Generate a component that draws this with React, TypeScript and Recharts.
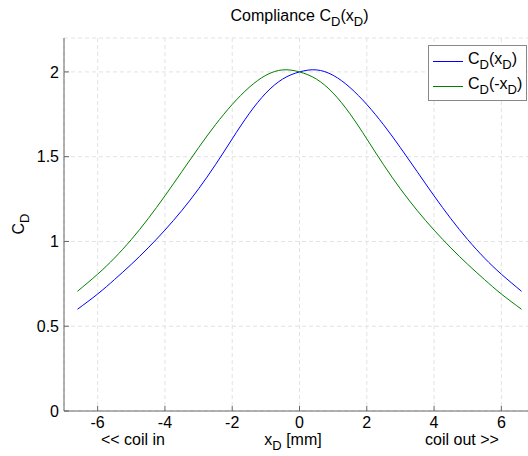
import { CartesianGrid, Legend, Line, LineChart, XAxis, YAxis } from "recharts";

// x positions [mm] and compliance values
const xs = [-6.6, -6, -5.5, -5, -4.5, -4, -3.5, -3, -2.5, -2, -1.5, -1, -0.5, 0, 0.5, 1, 1.5, 2, 2.5, 3, 3.5, 4, 4.5, 5, 5.5, 6, 6.6];
const cdPlus = [0.6, 0.69, 0.775, 0.865, 0.962, 1.067, 1.182, 1.31, 1.452, 1.605, 1.753, 1.875, 1.958, 2.0, 2.012, 1.98, 1.908, 1.808, 1.688, 1.553, 1.411, 1.269, 1.134, 1.011, 0.902, 0.807, 0.706];
const cdMinus = [0.706, 0.807, 0.902, 1.011, 1.134, 1.269, 1.411, 1.553, 1.688, 1.808, 1.908, 1.98, 2.012, 2.0, 1.958, 1.875, 1.753, 1.605, 1.452, 1.31, 1.182, 1.067, 0.962, 0.865, 0.775, 0.69, 0.6];

const xTicks = [-6, -4, -2, 0, 2, 4, 6];
const yTicks = [0, 0.5, 1, 1.5, 2];

const data = xs.map((x, i) => ({ x, plus: cdPlus[i], minus: cdMinus[i] }));

const FONT = "'Liberation Sans', Arial, sans-serif";
const FS = 16;
const SUB = 13;
const AXIS = "#666";

// parts: [text, isSubscript]
function rich(parts: [string, boolean][]) {
  let shifted = false;
  return parts.map(([t, sub], i) => {
    let dy = 0;
    if (sub && !shifted) dy = 5;
    if (!sub && shifted) dy = -5;
    shifted = sub;
    return (
      <tspan key={i} dy={dy} fontSize={sub ? SUB : FS}>
        {t}
      </tspan>
    );
  });
}

function XLabel() {
  return (
    <g fontSize={FS} fill="#000" fontFamily={FONT}>
      <text x={133} y={445} textAnchor="middle">{"<< coil in"}</text>
      <text x={293} y={445} textAnchor="middle">
        {rich([["x", false], ["D", true], [" [mm]", false]])}
      </text>
      <text x={462} y={445} textAnchor="middle">{"coil out >>"}</text>
    </g>
  );
}

function YLabel() {
  return (
    <text x={24} y={224} transform="rotate(-90 24 224)" textAnchor="middle" fontSize={FS} fill="#000" fontFamily={FONT}>
      {rich([["C", false], ["D", true]])}
    </text>
  );
}

function LegendBox() {
  return (
    <svg width={99} height={56} style={{ display: "block" }}>
      <rect x={0.5} y={0.5} width={98} height={55} fill="#fff" stroke="#888" />
      <line x1={5} x2={35} y1={16.5} y2={16.5} stroke="#0000ff" />
      <text x={40} y={19} fontSize={FS} fontFamily={FONT}>
        {rich([["C", false], ["D", true], ["(x", false], ["D", true], [")", false]])}
      </text>
      <line x1={5} x2={35} y1={41.5} y2={41.5} stroke="#008000" />
      <text x={40} y={44} fontSize={FS} fontFamily={FONT}>
        {rich([["C", false], ["D", true], ["(-x", false], ["D", true], [")", false]])}
      </text>
    </svg>
  );
}

export default function App() {
  return (
    <div style={{ position: "fixed", left: 0, top: 0, width: 528, height: 456, overflow: "hidden", background: "#fff", fontFamily: FONT }}>
      <svg width={528} height={30} style={{ position: "absolute", left: 0, top: 0, zIndex: 2 }}>
        <text x={299.5} y={21} textAnchor="middle" fontSize={FS} fontFamily={FONT}>
          {rich([["Compliance C", false], ["D", true], ["(x", false], ["D", true], [")", false]])}
        </text>
      </svg>
      <LineChart width={540} height={456} data={data} margin={{ top: 38, right: 5, bottom: 0, left: 0 }}>
        <CartesianGrid stroke="#e2e2e2" strokeDasharray="4 3" />
        <XAxis
          dataKey="x"
          type="number"
          domain={[-7, 7]}
          ticks={xTicks}
          height={45}
          stroke={AXIS}
          tickSize={-5}
          tickMargin={11}
          tick={{ fontSize: FS, fill: "#000" }}
          label={{ content: () => <XLabel /> }}
        />
        <XAxis xAxisId="top" orientation="top" type="number" domain={[-7, 7]} ticks={xTicks} height={0} stroke={AXIS} tickSize={-5} tick={false} />
        <YAxis
          type="number"
          domain={[0, 2.2]}
          ticks={yTicks}
          width={64}
          stroke={AXIS}
          tickSize={-5}
          tickMargin={10}
          tick={{ fontSize: FS, fill: "#000" }}
          label={{ content: () => <YLabel /> }}
        />
        <YAxis yAxisId="right" orientation="right" type="number" domain={[0, 2.2]} ticks={yTicks} width={0} stroke={AXIS} tickSize={-5} tick={false} />
        <Line type="natural" dataKey="plus" stroke="#0000ff" strokeWidth={1} dot={false} isAnimationActive={false} />
        <Line type="natural" dataKey="minus" stroke="#008000" strokeWidth={1} dot={false} isAnimationActive={false} />
        <Legend
          layout="horizontal"
          verticalAlign="middle"
          align="center"
          content={() => <LegendBox />}
          wrapperStyle={{ position: "absolute", left: 428, top: 45, width: 99, height: 56 }}
        />
      </LineChart>
    </div>
  );
}
